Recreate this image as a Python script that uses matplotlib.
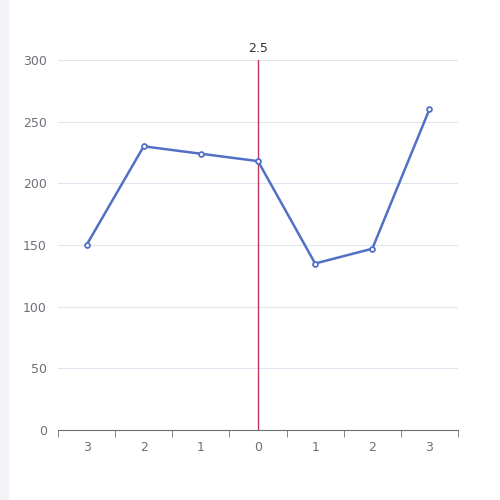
import matplotlib
matplotlib.use("Agg")
import matplotlib.pyplot as plt
from matplotlib.patches import Rectangle

categories = ["3", "2", "1", "0", "1", "2", "3"]
values = [150, 230, 224, 218, 135, 147, 260]
mark_index = 3
mark_label = "2.5"
yticks = [0, 50, 100, 150, 200, 250, 300]

fig = plt.figure(figsize=(5, 5), dpi=100)
fig.patches.append(Rectangle((0, 0), 8/500, 1, transform=fig.transFigure, color="#f2f2f7", zorder=0))
ax = fig.add_axes([0.116, 0.14, 0.8, 0.74])
n = len(categories)
xs = list(range(n))
ax.set_xlim(-0.5, n - 0.5)
ax.set_ylim(0, 300)
for y in yticks[1:]:
    ax.axhline(y, color="#e0e6f1", lw=0.8, zorder=1)
ax.plot(xs, values, color="#5470c6", lw=1.8, marker="o", ms=3.5, mfc="white", mec="#5470c6", mew=1.3, zorder=3)
ax.axvline(mark_index, color="#c23560", lw=1, zorder=2)
ax.text(mark_index, 304, mark_label, ha="center", va="bottom", fontsize=9, color="#333333")
for s in ["top", "right", "left"]:
    ax.spines[s].set_visible(False)
ax.spines["bottom"].set_color("#6e7079")
ax.set_yticks(yticks)
ax.tick_params(axis="y", length=0, labelcolor="#6e7079", labelsize=9, pad=8)
ax.set_xticks(xs)
ax.set_xticklabels(categories)
ax.set_xticks([i - 0.5 for i in range(n + 1)], minor=True)
ax.tick_params(axis="x", which="major", length=0, labelcolor="#6e7079", labelsize=9, pad=8)
ax.tick_params(axis="x", which="minor", length=5, color="#6e7079")
fig.savefig("out.png", dpi=100)
